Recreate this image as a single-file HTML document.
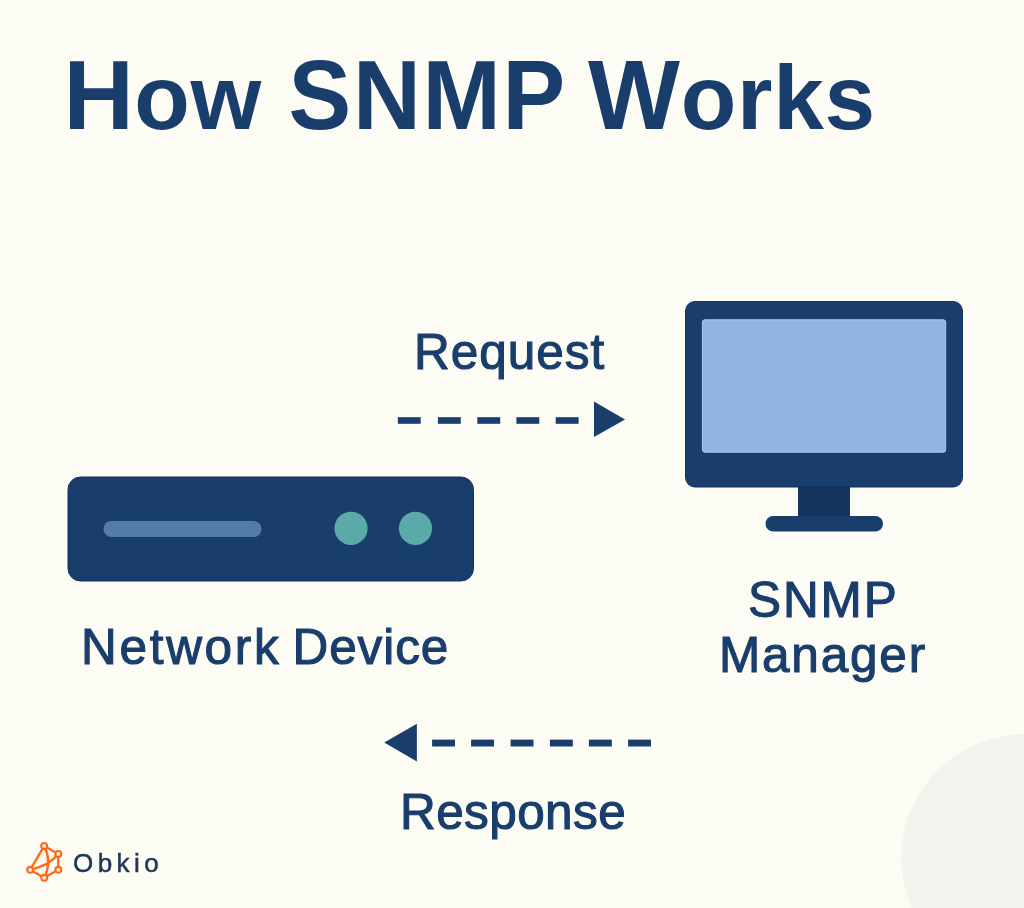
<!DOCTYPE html>
<html lang="en">
<head>
<meta charset="utf-8">
<title>How SNMP Works</title>
<style>
  html, body { margin: 0; padding: 0; }
  body { width: 1024px; height: 908px; overflow: hidden; background: #fdfcf4; }
  .stage { position: relative; width: 1024px; height: 908px; overflow: hidden; background: #fdfcf4;
    font-family: "Liberation Sans", sans-serif; color: #1a3e6c; }
  .shapes { position: absolute; left: 0; top: 0; width: 1024px; height: 908px; }
  .t { position: absolute; white-space: nowrap; line-height: 1; margin: 0; font-weight: normal;
    -webkit-text-stroke: 1.1px #1a3e6c; will-change: transform; }
  h1.title { position: absolute; margin: 0; left: 64px; top: 48.5px; font-size: 94px; line-height: 94px;
    font-weight: bold; white-space: nowrap; color: #1a3e6c; will-change: transform; }
  h1.title span { display: inline-block; position: relative; vertical-align: baseline; line-height: 94px; }
  h1.title .mix { font-size: 91px; }
  h1.title .mix::first-letter { font-size: 97.4px; }
  .label { font-size: 49.5px; }
  .brand { font-size: 26px; color: #1e3556; -webkit-text-stroke: 0.5px #1e3556; letter-spacing: 4.45px; }
</style>
</head>
<body>
<div class="stage">
  <svg class="shapes" width="1024" height="908" viewBox="0 0 1024 908" aria-hidden="true">
    <!-- decorative circle -->
    <circle cx="1025.3" cy="858" r="124" fill="#f4f2ec"/>
    <!-- network device -->
    <rect x="68" y="477" width="405.5" height="104" rx="12.5" fill="#1a3e6c" stroke="#10305f" stroke-width="1"/>
    <rect x="103.5" y="521" width="158" height="16" rx="8" fill="#537da6"/>
    <circle cx="351" cy="528.3" r="16.6" fill="#5aaba8"/>
    <circle cx="415.5" cy="528.3" r="16.6" fill="#5aaba8"/>
    <!-- monitor -->
    <rect x="798" y="480" width="52" height="38" fill="#15355f"/>
    <rect x="765.5" y="516" width="117.5" height="15.5" rx="7.75" fill="#1a3e6c"/>
    <rect x="685.5" y="301.5" width="277" height="185.5" rx="9.5" fill="#1a3e6c" stroke="#10305f" stroke-width="1"/>
    <rect x="702.4" y="319.8" width="243.3" height="132.4" rx="2.5" fill="#92b4e2" stroke="#aecbf0" stroke-width="1"/>
    <!-- request arrow -->
    <g fill="#1a3e6c">
      <rect x="397.8" y="417.2" width="22.9" height="6.6"/>
      <rect x="437.9" y="417.2" width="22.9" height="6.6"/>
      <rect x="477.3" y="417.2" width="22.9" height="6.6"/>
      <rect x="516.4" y="417.2" width="22.9" height="6.6"/>
      <rect x="555.7" y="417.2" width="22.9" height="6.6"/>
      <polygon points="594,401.5 625,419.5 594,437"/>
    </g>
    <!-- response arrow -->
    <g fill="#1a3e6c">
      <polygon points="416.9,723.8 384.2,742.6 416.9,761.4"/>
      <rect x="432.1" y="739.6" width="22.9" height="6.9"/>
      <rect x="471.1" y="739.6" width="22.9" height="6.9"/>
      <rect x="510.6" y="739.6" width="22.9" height="6.9"/>
      <rect x="549.9" y="739.6" width="22.9" height="6.9"/>
      <rect x="588.9" y="739.6" width="22.9" height="6.9"/>
      <rect x="628.1" y="739.6" width="22.9" height="6.9"/>
    </g>
    <!-- obkio logo mark -->
    <g fill="none" stroke="#fd6b1a" stroke-width="2.35" stroke-linejoin="round" stroke-linecap="round">
      <path d="M44.2 845.9 L58.3 854 L58.3 869.8 L44.2 877.8 L30.2 869.8 Z"/>
      <path d="M44.2 845.9 Q52.2 861.8 44.2 877.8"/>
      <path d="M30.2 869.8 Q49.6 865.3 58.3 854"/>
    </g>
    <g fill="#fdfcf4" stroke="#fd6b1a" stroke-width="2.1">
      <circle cx="44.2" cy="845.9" r="2.95"/>
      <circle cx="58.3" cy="854" r="2.95"/>
      <circle cx="58.3" cy="869.8" r="2.95"/>
      <circle cx="44.2" cy="877.8" r="2.95"/>
      <circle cx="30.2" cy="869.8" r="2.95"/>
    </g>
  </svg>

  <h1 class="title"><span id="w1" class="mix" style="margin-left:-0.5px; letter-spacing:0.5px;">How</span> <span id="w2" style="margin-left:0.66px; letter-spacing:1.7px; transform:scaleY(1.036); transform-origin:0 84.65%;">SNMP</span> <span id="w3" class="mix" style="margin-left:-5.02px; letter-spacing:0.75px;">Works</span></h1>
  <div class="t label" id="req" style="left:414px; top:327.3px; letter-spacing:1px;">Request</div>
  <div class="t label" id="res" style="left:399.7px; top:787.4px; letter-spacing:0.4px;">Response</div>
  <div class="t label" id="dev" style="left:80.7px; top:622.2px; word-spacing:-2.7px;"><span style="letter-spacing:2.7px;">Network</span> <span style="letter-spacing:0.9px;">Device</span></div>
  <div class="t label" id="snmp" style="left:748.2px; top:574.6px; letter-spacing:1.9px;">SNMP</div>
  <div class="t label" id="mgr" style="left:718.7px; top:629.7px; letter-spacing:1.8px;">Manager</div>
  <div class="t brand" id="brand" style="left:72.9px; top:850.4px;">Obkio</div>
</div>
</body>
</html>
